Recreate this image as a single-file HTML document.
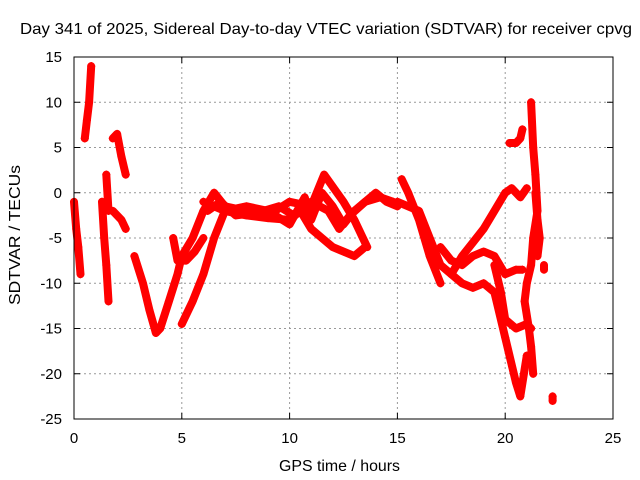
<!DOCTYPE html>
<html><head><meta charset="utf-8">
<style>
body{margin:0;background:#fff;}
svg{display:block;font-family:"Liberation Sans",sans-serif;}
</style></head>
<body>
<svg id="chart" width="640" height="480">
<text x="20" y="34" textLength="612" lengthAdjust="spacingAndGlyphs" font-size="16">Day 341 of 2025, Sidereal Day-to-day VTEC variation (SDTVAR) for receiver cpvg</text>
<text x="279" y="471" textLength="121" lengthAdjust="spacingAndGlyphs" font-size="16">GPS time / hours</text>
<text x="0" y="0" textLength="140" lengthAdjust="spacingAndGlyphs" font-size="16" transform="translate(20 305) rotate(-90)">SDTVAR / TECUs</text>
<g id="grid"></g>
<g id="marks"></g>
<rect x="74" y="57" width="539" height="362" fill="none" stroke="#000" stroke-width="1"/>
</svg>
<script>
const xTicks=[0,5,10,15,20,25];
const yTicks=[15,10,5,0,-5,-10,-15,-20,-25];
const tracks=[
[[0.5,6],[0.6,8],[0.7,10],[0.8,14]],
[[0.0,-1],[0.1,-4],[0.2,-6],[0.3,-9]],
[[1.3,-1],[1.4,-5],[1.5,-8],[1.6,-12]],
[[1.5,2],[1.6,-2]],
[[1.8,6],[2.0,6.5],[2.2,4],[2.4,2]],
[[1.8,-2],[2.2,-3],[2.4,-4]],
[[2.8,-7],[3.2,-10],[3.5,-13],[3.8,-15.5],[4.0,-15],[4.4,-12],[4.8,-9],[5.0,-7],[5.5,-5],[6.0,-2],[6.5,0],[7,-1.5],[8,-2],[9,-2.5],[10,-1],[11,-1.5],[11.6,2],[12.5,-1],[13,-3],[13.6,-6]],
[[5.0,-14.5],[5.5,-12],[6.0,-9],[6.5,-5],[7.0,-2],[8,-2.5],[9,-2.8],[10,-3],[10.5,-2],[11,-4],[11.5,-5],[12,-6],[12.5,-6.5],[13,-7],[13.5,-6]],
[[6.0,-1],[7,-2],[8,-1.5],[9,-2],[10,-3.5],[10.7,-0.5],[11,-3],[11.5,0],[12,-1.5],[12.5,-3.5],[13,-2],[14,0],[14.5,-1],[15,-1.5]],
[[6.2,-2],[6.8,-1],[7.5,-2.5],[8.5,-2.2],[9.5,-1.5],[10.2,-2.5],[11,-1],[11.8,-2],[12.3,-4],[12.8,-2.5],[13.5,-1],[14.2,-0.5],[14.8,-1]],
[[4.6,-5],[4.8,-7.5],[5.2,-7.5],[5.6,-6.5],[6.0,-5]],
[[15.2,1.5],[15.5,0],[16,-3],[16.5,-7],[17,-10]],
[[15,-1],[16,-2],[16.5,-5],[17,-8],[17.5,-9],[18,-10],[18.5,-10.5],[19,-10],[19.5,-11],[20,-16],[20.5,-21],[20.7,-22.5],[21,-18]],
[[17.5,-9],[18,-7],[18.5,-5.5],[19,-4],[19.5,-2],[20,0],[20.3,0.5],[20.7,-0.5],[21,0.5]],
[[17,-6],[17.5,-7.5],[18,-8],[18.5,-7],[19,-6.5],[19.5,-7],[20,-9],[20.5,-8.5],[20.8,-8.5]],
[[19.5,-8],[19.8,-11],[20,-14],[20.5,-15],[21,-14.5],[21.2,-15]],
[[20.2,5.5],[20.5,5.5],[20.7,6],[20.8,7]],
[[21.2,10],[21.3,5],[21.4,2],[21.5,-2],[21.3,-5],[21.2,-8],[21.0,-10],[20.9,-12],[21.1,-15],[21.2,-17],[21.3,-20]],
[[21.4,0],[21.5,-3],[21.6,-5],[21.5,-7]],
[[21.8,-8.5],[21.8,-8]],
[[22.2,-23],[22.2,-22.5]]
];
const NS="http://www.w3.org/2000/svg";
const X0=74,X1=613,Y0=419,Y1=57;
function sx(h){return X0+(h-0)/(25-0)*(X1-X0);}
function sy(v){return Y0-(v+25)/(40)*(Y0-Y1);}
const grid=document.getElementById('grid');
const marks=document.getElementById('marks');
function mk(tag,attrs,parent){const e=document.createElementNS(NS,tag);for(const k in attrs)e.setAttribute(k,attrs[k]);parent.appendChild(e);return e;}
xTicks.forEach(t=>{
  const x=sx(t);
  if(t>0&&t<25){const g=mk('line',{x1:x,x2:x,y1:Y1,y2:Y0,stroke:'#999','stroke-dasharray':'2,3'},grid);
  
  }
  mk('line',{x1:x,x2:x,y1:Y0,y2:Y0-6,stroke:'#000'},grid);
  mk('line',{x1:x,x2:x,y1:Y1,y2:Y1+6,stroke:'#000'},grid);
  const l=mk('text',{x:x,y:Y0+24,'text-anchor':'middle','font-size':'15'},grid);
  l.textContent=t;
  
  
});
yTicks.forEach(t=>{
  const y=sy(t);
  if(t<15&&t>-25){const g=mk('line',{x1:X0,x2:X1,y1:y,y2:y,stroke:'#999','stroke-dasharray':'2,3'},grid);
  
  }
  mk('line',{x1:X0,x2:X0+6,y1:y,y2:y,stroke:'#000'},grid);
  mk('line',{x1:X1,x2:X1-6,y1:y,y2:y,stroke:'#000'},grid);
  const l=mk('text',{x:X0-12,y:y+5,'text-anchor':'end','font-size':'15'},grid);
  l.textContent=t;
  
  
});
tracks.forEach(tr=>{
  const pts=tr.map(p=>sx(p[0]).toFixed(1)+','+sy(p[1]).toFixed(1)).join(' ');
  const pl=mk('polyline',{points:pts,fill:'none',stroke:'#f00','stroke-width':'8','stroke-linejoin':'round','stroke-linecap':'round'},marks);
  
  
  tr.forEach(p=>{
    const x=sx(p[0]),y=sy(p[1]);
    const m=mk('path',{d:`M${x-4},${y}H${x+4}M${x},${y-4}V${y+4}`,stroke:'#f00','stroke-width':'1.2'},marks);
    
    
  });
});
</script>
</body></html>
